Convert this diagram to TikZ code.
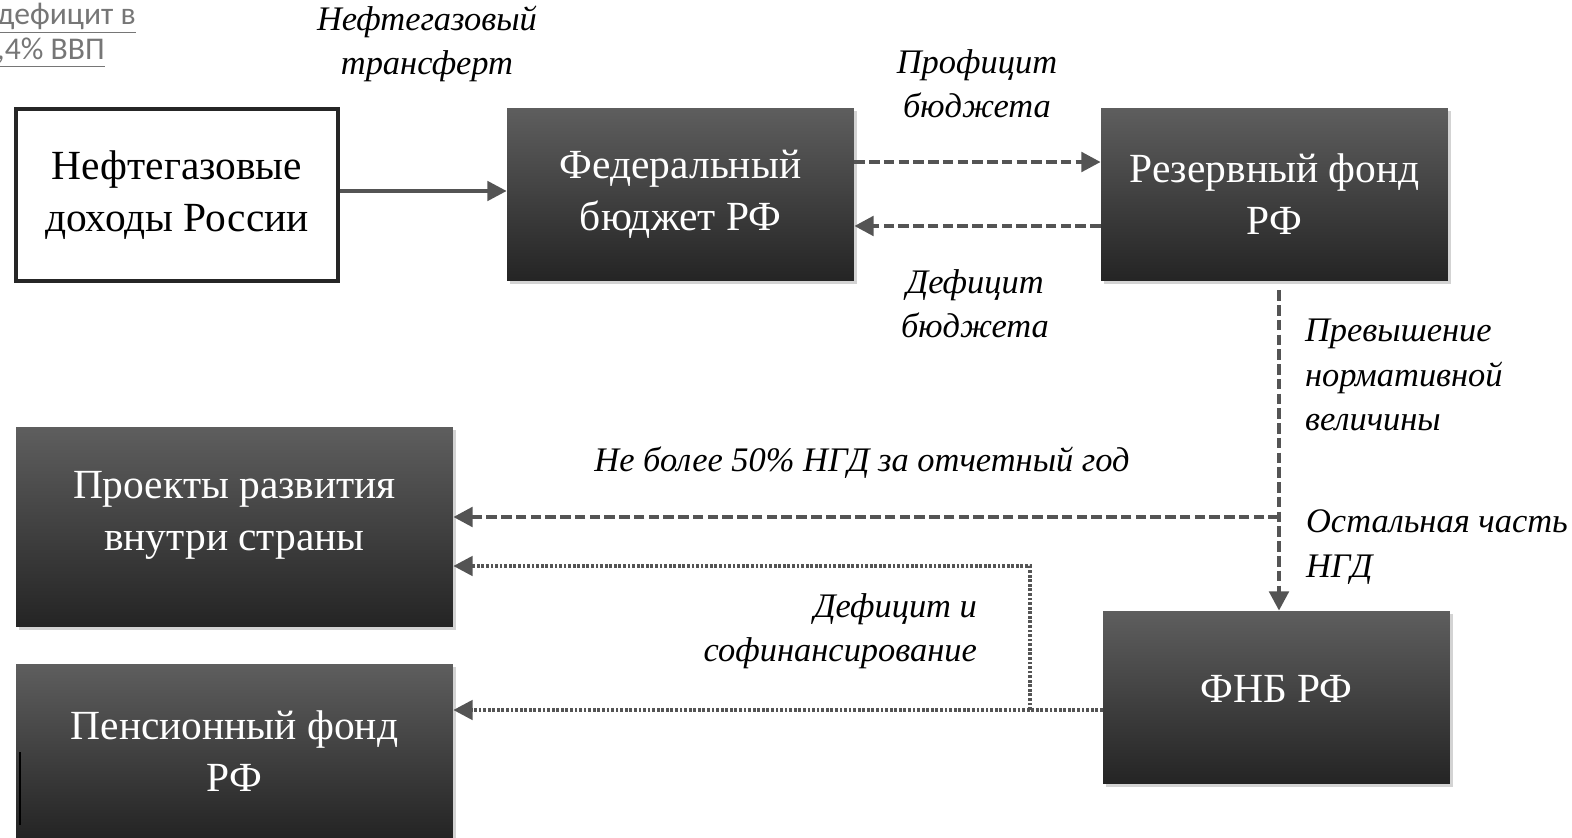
\documentclass[tikz,border=0pt]{standalone}
\usepackage{fontspec}
\setmainfont{Liberation Serif}
\newfontfamily\notefont{Carlito}
\usetikzlibrary{arrows.meta,shadows}
\definecolor{boxtop}{RGB}{94,94,94}
\definecolor{boxbot}{RGB}{36,36,36}
\definecolor{linegray}{RGB}{84,84,84}
\definecolor{notegray}{RGB}{118,118,118}
\tikzset{
  fund/.style={rectangle, top color=boxtop, bottom color=boxbot, text=white, align=center,
    minimum width=6.94cm, minimum height=3.46cm, font=\fontsize{23.6}{29.5}\selectfont,
    drop shadow={shadow xshift=1.5pt, shadow yshift=-1.5pt, opacity=0.35}},
  lbl/.style={font=\fontsize{19.6}{25.2}\selectfont\itshape, inner sep=1pt},
  flow/.style={draw=linegray, line width=2.2pt, -{Triangle[length=11pt,width=11pt]}},
  dashflow/.style={flow, line width=2.4pt, dash pattern=on 6pt off 2.4pt},
  dotflow/.style={flow, line width=2.2pt, dash pattern=on 1.6pt off 1pt}
}
\begin{document}
\begin{tikzpicture}[x=0.02cm, y=-0.02cm]
\useasboundingbox (0,0) rectangle (1572,838);
\node[anchor=base east, inner sep=0, align=left, text=notegray,
  font=\notefont\fontsize{18}{20}\selectfont] (note) at (136,60)
  {\underline{дефицит в}\\\underline{,4\% ВВП}};

\node[draw=black!85, line width=2.6pt, fill=white, align=center, minimum width=6.44cm,
  minimum height=3.44cm, font=\fontsize{23.6}{29.5}\selectfont] (neft) at (177,195)
  {Нефтегазовые\\доходы России};
\node[fund] (fed) at (680.5,194.5) {Федеральный\\бюджет РФ};
\node[fund] (rez) at (1274.5,194.5) {Резервный фонд\\РФ};
\node[fund, text depth=0.35cm] (fnb) at (1276.5,697.5) {ФНБ РФ};
\node[fund, minimum width=8.74cm, minimum height=4cm, text depth=0.65cm] (proj) at (234.5,527)
  {Проекты развития\\внутри страны};
\node[fund, minimum width=8.74cm, minimum height=3.48cm] (pens) at (234.5,751)
  {Пенсионный фонд\\РФ};
\draw[black, line width=0.8pt] (20,752) -- (20,825);

\node[lbl, align=center] (transf) at (427,44) {Нефтегазовый\\трансферт};
\node[lbl, align=center] (prof) at (977,84) {Профицит\\бюджета};
\node[lbl, align=center] (defic) at (975,304) {Дефицит\\бюджета};
\node[lbl, align=left, anchor=west] (excess) at (1303,375) {Превышение\\нормативной\\величины};
\node[lbl] (half) at (862,463) {Не более 50\% НГД за отчетный год};
\node[lbl, align=left, anchor=west] (rest) at (1304,547) {Остальная часть\\НГД};
\node[lbl, align=right, anchor=east] (cofin) at (979,631) {Дефицит и\\софинансирование};

\coordinate (split) at (1279,517);
\coordinate (fork) at (1030,710);
\coordinate (bend) at (1030,566);

\draw[flow] ([yshift=0.08cm]neft.east) -- ([yshift=0.08cm]neft.east -| fed.west);
\draw[dashflow] ([yshift=0.65cm]fed.east) -- ([yshift=0.65cm]rez.west);
\draw[dashflow] ([yshift=-0.63cm]rez.west) -- ([yshift=-0.63cm]fed.east);
\draw[dashflow] ([xshift=0.09cm,yshift=-0.18cm]rez.south) -- ([xshift=0.09cm]rez.south |- fnb.north);
\draw[dashflow] (split) -- (split -| proj.east);
\draw[dotflow] (fnb.west |- fork) -- (fork -| pens.east);
\draw[dotflow] (fork) -- (bend) -- (bend -| proj.east);
\end{tikzpicture}
\end{document}
